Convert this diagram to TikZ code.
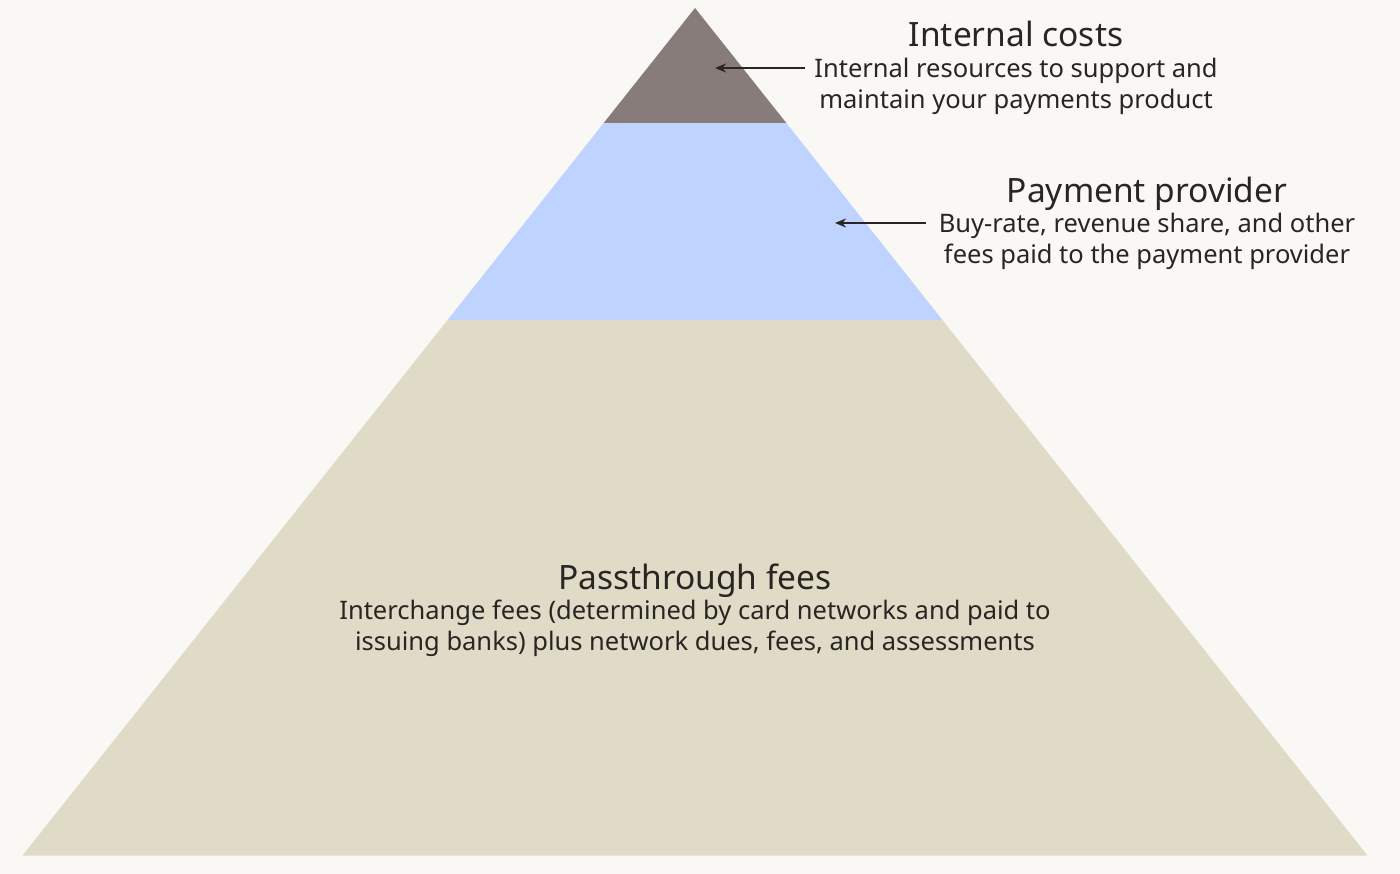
\documentclass[tikz,border=0pt]{standalone}
\usepackage{fontspec}
\setmainfont{Noto Sans}
\usetikzlibrary{arrows.meta}
\definecolor{bg}{HTML}{F9F8F4}
\definecolor{topc}{HTML}{877C79}
\definecolor{midc}{HTML}{BFD3FF}
\definecolor{basec}{HTML}{E0DBC7}
\definecolor{ink}{HTML}{2A2422}
\tikzset{
  titletext/.style={font=\fontsize{33.5}{38}\selectfont, text=ink, anchor=base, inner sep=0pt},
  bodytext/.style={font=\fontsize{25.5}{31}\selectfont, text=ink, align=center, anchor=base, inner sep=0pt},
  pointer/.style={draw=ink, line width=2pt, -{Stealth[length=11pt,width=9pt]}}
}
\begin{document}
\begin{tikzpicture}[x=1pt,y=-1pt]
\fill[bg] (0,0) rectangle (1400,874);
\useasboundingbox (0,0) rectangle (1400,874);
% layers
\fill[basec] (447.6,320) -- (942.4,320) -- (1367.5,855.5) -- (22.5,855.5) -- cycle;
\fill[midc] (603.7,123) -- (786.3,123) -- (942.4,320) -- (447.6,320) -- cycle;
\fill[topc] (695,8) -- (786.3,123) -- (603.7,123) -- cycle;
% texts
\node[titletext] (t1) at (1016,47) {Internal costs};
\node[bodytext] (b1) at (1016,109) {Internal resources to support and\\maintain your payments product};
\node[titletext] (t2) at (1147,203) {Payment provider};
\node[bodytext] (b2) at (1147,264) {Buy-rate, revenue share, and other\\fees paid to the payment provider};
\node[titletext] (t3) at (695,589) {Passthrough fees};
\node[bodytext] (b3) at (695,650) {Interchange fees (determined by card networks and paid to\\issuing banks) plus network dues, fees, and assessments};
% arrows
\coordinate (a1s) at (805,68);
\coordinate (a1e) at (715,68);
\coordinate (a2s) at (926,223);
\coordinate (a2e) at (835,223);
\draw[pointer] (a1s) -- (a1e);
\draw[pointer] (a2s) -- (a2e);
\end{tikzpicture}
\end{document}
